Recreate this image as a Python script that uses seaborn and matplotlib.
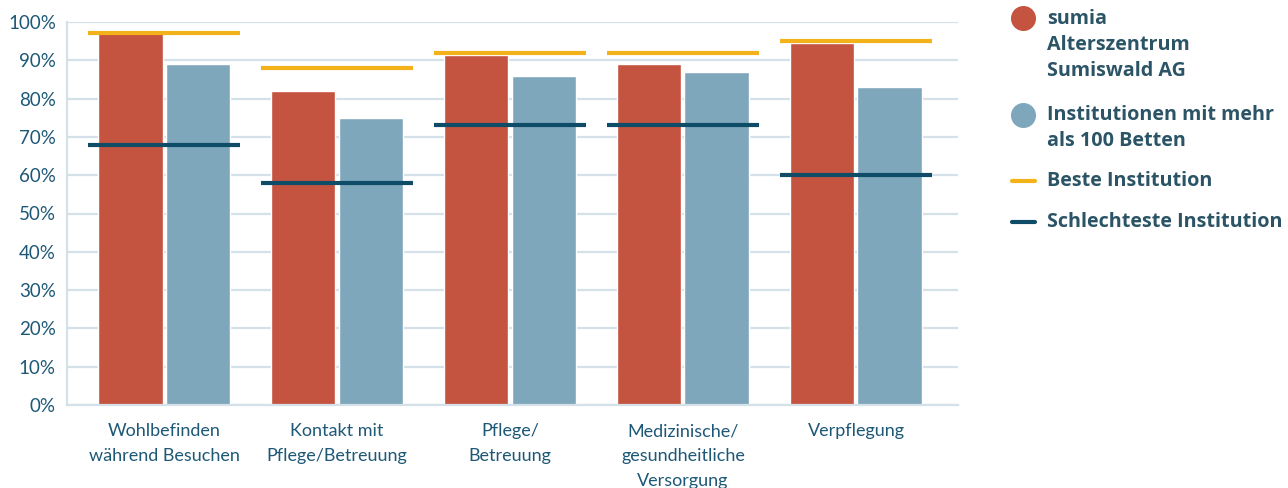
import pandas as pd
import matplotlib.pyplot as plt
import seaborn as sns
from matplotlib.lines import Line2D

# Kategorien und Werte (in %)
kategorien = [
    "Wohlbefinden\nwährend Besuchen",
    "Kontakt mit\nPflege/Betreuung",
    "Pflege/\nBetreuung",
    "Medizinische/\ngesundheitliche\nVersorgung",
    "Verpflegung",
]
sumia = [97, 82, 91.5, 89, 94.5]
gross = [89, 75, 86, 87, 83]
beste = [97, 88, 92, 92, 95]
schlechteste = [68, 58, 73, 73, 60]

serie_sumia = "sumia\nAlterszentrum\nSumiswald AG"
serie_gross = "Institutionen mit mehr\nals 100 Betten"

ROT = "#C4533F"
BLAU = "#7FA7BC"
GELB = "#F3B21A"
DUNKEL = "#0F4C68"
GRID = "#D4E1E8"
TEXT = "#1D5877"
LEGTEXT = "#2B5466"

df = pd.DataFrame({
    "kategorie": kategorien * 2,
    "wert": sumia + gross,
    "serie": [serie_sumia] * len(kategorien) + [serie_gross] * len(kategorien),
})

sns.set_style("white")
plt.rcParams["font.family"] = ["Lato", "DejaVu Sans"]

fig = plt.figure(figsize=(12.88, 4.88), dpi=100)
ax = fig.add_axes([67 / 1288, 83 / 488, 891 / 1288, 383 / 488])

sns.barplot(
    data=df, x="kategorie", y="wert", hue="serie",
    palette=[ROT, BLAU], width=0.78, gap=0.045,
    saturation=1, legend=False, ax=ax, zorder=2,
)

xs = range(len(kategorien))
lo = [x - 0.437 for x in xs]
hi = [x + 0.437 for x in xs]
ax.hlines(beste, lo, hi, color=GELB, lw=3, zorder=3)
ax.hlines(schlechteste, lo, hi, color=DUNKEL, lw=3, zorder=3)

ax.set_ylim(0, 100)
ax.set_xlim(-0.561, 4.59)
ax.set_yticks(range(0, 101, 10))
ax.set_yticklabels([f"{v}%" for v in range(0, 101, 10)])
ax.yaxis.grid(True, color=GRID, lw=1.6, zorder=0)
ax.set_axisbelow(True)
for s in ["top", "right"]:
    ax.spines[s].set_visible(False)
for s in ["left", "bottom"]:
    ax.spines[s].set_color(GRID)
    ax.spines[s].set_linewidth(1.6)
ax.tick_params(axis="y", length=0, labelsize=13.5, labelcolor=TEXT, pad=8)
ax.tick_params(axis="x", length=0, labelsize=13, labelcolor=TEXT, pad=13)
for t in ax.get_xticklabels():
    t.set_linespacing(1.68)
ax.set_xlabel("")
ax.set_ylabel("")

# Legende rechts, von Hand gesetzt
def px(x, y):
    return x / 1288, 1 - y / 488

leg_font = dict(fontsize=14.2, fontweight="bold", color=LEGTEXT,
                family=["Open Sans", "DejaVu Sans"], va="center", ha="left", linespacing=1.4)
eintraege = [
    ("o", ROT, serie_sumia, 18, 3),
    ("o", BLAU, serie_gross, 115, 2),
    ("-", GELB, "Beste Institution", 181, 1),
    ("-", DUNKEL, "Schlechteste Institution", 222, 1),
]
for art, farbe, text, y, zeilen in eintraege:
    if art == "o":
        fig.add_artist(Line2D([px(1023, y)[0]], [px(1023, y)[1]], marker="o",
                              markersize=17, color=farbe, transform=fig.transFigure))
    else:
        fig.add_artist(Line2D([px(1012, y)[0], px(1035, y)[0]], [px(0, y)[1]] * 2,
                              lw=3, color=farbe, transform=fig.transFigure))
    # Textblock so setzen, dass die erste Zeile auf Höhe des Symbols liegt
    fig.text(*px(1047, y + (zeilen - 1) * 26.5 / 2), text, **leg_font)

plt.savefig("out.png", dpi=100)
